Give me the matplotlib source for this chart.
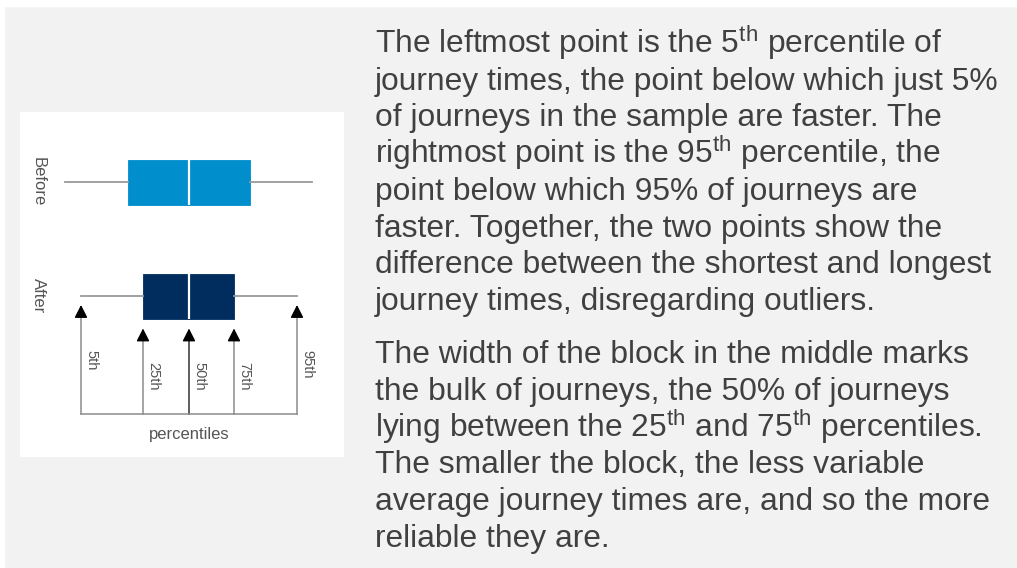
import matplotlib
matplotlib.use("Agg")
import matplotlib.pyplot as plt
from matplotlib.patches import Rectangle

plt.rcParams['font.family'] = ['Liberation Sans', 'DejaVu Sans']
plt.rcParams['mathtext.fontset'] = 'custom'
plt.rcParams['mathtext.rm'] = 'Liberation Sans'
plt.rcParams['mathtext.it'] = 'Liberation Sans'

# data (percentiles of journey time, arbitrary units)
groups = ['Before', 'After']
pct_names = ['5th', '25th', '50th', '75th', '95th']
before = [45, 108, 169, 230, 292]
after = [61, 123, 169, 214, 277]
box_colors = ['#008fcc', '#002d5e']

para1 = [
    "The leftmost point is the 5$^{\\rm th}$ percentile of",
    "journey times, the point below which just 5%",
    "of journeys in the sample are faster. The",
    "rightmost point is the 95$^{\\rm th}$ percentile, the",
    "point below which 95% of journeys are",
    "faster. Together, the two points show the",
    "difference between the shortest and longest",
    "journey times, disregarding outliers.",
]
para2 = [
    "The width of the block in the middle marks",
    "the bulk of journeys, the 50% of journeys",
    "lying between the 25$^{\\rm th}$ and 75$^{\\rm th}$ percentiles.",
    "The smaller the block, the less variable",
    "average journey times are, and so the more",
    "reliable they are.",
]

W, H = 1017, 568
fig = plt.figure(figsize=(W / 100, H / 100), dpi=100, facecolor='#f2f2f2')
# thin white strips at the top and left edges
fig.patches.append(Rectangle((0, 1 - 6 / H), 1, 6 / H, transform=fig.transFigure,
                             color='white', zorder=0))
fig.patches.append(Rectangle((0, 0), 4 / W, 1, transform=fig.transFigure,
                             color='white', zorder=0))

# white panel with the explanatory box plot
px0, py0, pw, ph = 20, 112, 324, 345
ax = fig.add_axes([px0 / W, 1 - (py0 + ph) / H, pw / W, ph / H])
ax.set_facecolor('white')

positions = [70, 184]
box_h = 45
stats = []
for v in [before, after]:
    stats.append(dict(whislo=v[0], q1=v[1], med=v[2], q3=v[3], whishi=v[4]))
bp = ax.bxp(stats, positions=positions, widths=box_h, orientation='horizontal',
            patch_artist=True, showcaps=False, showfliers=False,
            whiskerprops=dict(color='#9a9a9a', lw=1.3),
            medianprops=dict(color='white', lw=1.6))
for patch, c in zip(bp['boxes'], box_colors):
    patch.set_facecolor(c)
    patch.set_edgecolor(c)
    patch.set_linewidth(0.6)

ax.set_xlim(0, pw)
ax.set_ylim(ph, 0)
for s in ax.spines.values():
    s.set_visible(False)
ax.set_xticks([])
ax.set_yticks([])

for name, y in zip(groups, positions):
    ax.text(18, y, name, rotation=-90, ha='center', va='center',
            fontsize=12, color='#555555')

# arrows pointing at the "After" percentiles
y_after = positions[1]
base_y = 302
for i, (name, x) in enumerate(zip(pct_names, after)):
    outer = i in (0, len(after) - 1)
    tip = y_after + 9 if outer else y_after + box_h / 2 + 10
    shaft = '#333333' if name == '50th' else '#8c8c8c'
    ax.plot([x, x], [base_y, tip + 6], color=shaft, lw=1.1)
    ax.annotate('', xy=(x, tip), xytext=(x, tip + 10),
                arrowprops=dict(arrowstyle='-|>,head_length=0.55,head_width=0.28',
                                color='black', lw=1, shrinkA=0, shrinkB=0,
                                mutation_scale=14))
    ax.text(x + 3, tip + (45 if outer else 34), name, rotation=-90,
            ha='left', va='top', fontsize=10.5, color='#555555')
ax.plot([after[0], after[-1]], [base_y, base_y], color='#8c8c8c', lw=1.1)
ax.text(after[2], 322, 'percentiles', ha='center', va='center',
        fontsize=12, color='#555555')

# explanatory text
tx = 375
for k, line in enumerate(para1):
    fig.text(tx / W, 1 - (53 + k * 36.7) / H, line, ha='left', va='baseline',
             fontsize=22.9, color='#404040')
for k, line in enumerate(para2):
    fig.text(tx / W, 1 - (363 + k * 36.8) / H, line, ha='left', va='baseline',
             fontsize=22.9, color='#404040')

fig.savefig('out.png', dpi=100, facecolor=fig.get_facecolor())
